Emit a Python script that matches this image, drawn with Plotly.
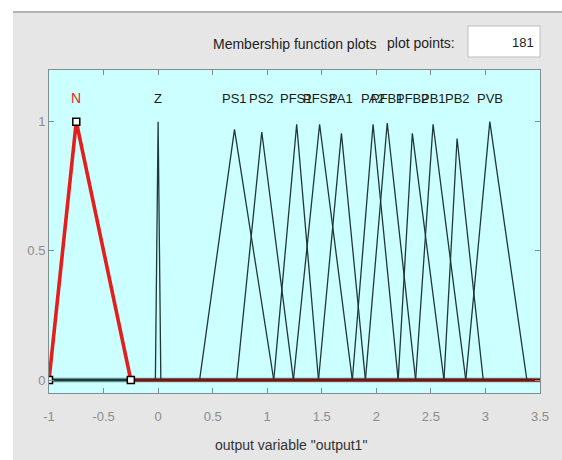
import plotly.graph_objects as go

# ---- data ----
x_range = [-1.0, 3.5]
x_ticks = [-1, -0.5, 0, 0.5, 1, 1.5, 2, 2.5, 3, 3.5]
x_tick_labels = ["-1", "-0.5", "0", "0.5", "1", "1.5", "2", "2.5", "3", "3.5"]
y_ticks = [0, 0.5, 1]
y_tick_labels = ["0", "0.5", "1"]

# selected MF (red)
n_name = "N"
n_x = [-1.0, -0.75, -0.25, 3.5]
n_y = [0.0, 1.0, 0.0, 0.0]

# other triangular MFs: left foot, peak, right foot, plotted peak height
mf_names = ["Z", "PS1", "PS2", "PFS1", "PFS2", "PA1", "PA2", "PFB1", "PFB2", "PB1", "PB2", "PVB"]
mf_left = [-0.025, 0.38, 0.72, 1.06, 1.24, 1.47, 1.78, 1.90, 2.20, 2.36, 2.62, 2.82]
mf_peak = [0.00, 0.70, 0.95, 1.27, 1.48, 1.68, 1.97, 2.10, 2.33, 2.52, 2.74, 3.04]
mf_right = [0.025, 1.06, 1.24, 1.47, 1.78, 1.90, 2.20, 2.36, 2.62, 2.82, 2.98, 3.38]
mf_height = [1.00, 0.97, 0.96, 0.99, 0.99, 0.955, 0.99, 0.995, 0.955, 0.99, 0.935, 1.00]

label_y = 1.09
plot_points = "181"
title_text = "Membership function plots"
points_text = "plot points:"
xlabel_text = 'output variable "output1"'

# ---- layout geometry (pixels) ----
W, H = 562, 460
L, R, T, B = 49, 540, 70, 393
FONT = "Liberation Sans, Arial, sans-serif"


def px(xp):
    return (xp - L) / (R - L)


def py(yp):
    return (B - yp) / (B - T)


fig = go.Figure()

# baseline where all other MFs sit at zero
fig.add_trace(go.Scatter(x=[x_range[0], x_range[1]], y=[0, 0], mode="lines",
                         line=dict(color="#5f8f8f", width=4.5), hoverinfo="skip"))
# red selected MF
fig.add_trace(go.Scatter(x=n_x, y=n_y, mode="lines",
                         line=dict(color="#e41e1a", width=3.6), hoverinfo="skip"))
# other MFs
for name, a, b, c, h in zip(mf_names, mf_left, mf_peak, mf_right, mf_height):
    fig.add_trace(go.Scatter(x=[x_range[0], a, b, c, x_range[1]], y=[0, 0, h, 0, 0],
                             mode="lines", line=dict(color="#1f3838", width=1.3),
                             hoverinfo="skip"))
# vertex handles on the selected MF
fig.add_trace(go.Scatter(x=n_x[:3], y=n_y[:3], mode="markers",
                         marker=dict(symbol="square", size=7, color="white",
                                     line=dict(color="black", width=1.5)),
                         hoverinfo="skip"))

annotations = []
annotations.append(dict(x=n_x[1], y=label_y, xref="x", yref="y", text=n_name,
                        xanchor="center", yanchor="middle",
                        showarrow=False, font=dict(family=FONT, size=14, color="#e41e1a")))
for name, b in zip(mf_names, mf_peak):
    annotations.append(dict(x=b, y=label_y, xref="x", yref="y", text=name,
                            xanchor="center", yanchor="middle",
                            showarrow=False, font=dict(family=FONT, size=13, color="#1a1a1a")))

annotations += [
    dict(x=px(294), y=py(44), xref="paper", yref="paper", text=title_text,
         xanchor="center", yanchor="middle",
         showarrow=False, font=dict(family=FONT, size=14, color="#222")),
    dict(x=px(421), y=py(43), xref="paper", yref="paper", text=points_text,
         xanchor="center", yanchor="middle",
         showarrow=False, font=dict(family=FONT, size=14, color="#222")),
    dict(x=px(536), y=py(43), xref="paper", yref="paper", text=plot_points,
         xanchor="right", yanchor="middle",
         showarrow=False, font=dict(family=FONT, size=13, color="#222")),
    dict(x=px(291), y=py(445), xref="paper", yref="paper", text=xlabel_text,
         xanchor="center", yanchor="middle",
         showarrow=False, font=dict(family=FONT, size=14, color="#333")),
]

shapes = [
    # white strip at top and left
    dict(type="rect", xref="paper", yref="paper", x0=px(0), x1=px(W), y0=py(11), y1=py(0),
         fillcolor="white", line=dict(width=0), layer="below"),
    dict(type="rect", xref="paper", yref="paper", x0=px(0), x1=px(13), y0=py(H), y1=py(11),
         fillcolor="white", line=dict(width=0), layer="below"),
    dict(type="line", xref="paper", yref="paper", x0=px(13), x1=px(W), y0=py(12), y1=py(12),
         line=dict(color="#b4b4b4", width=2), layer="below"),
    # plot points box
    dict(type="rect", xref="paper", yref="paper", x0=px(468), x1=px(540), y0=py(57), y1=py(26),
         fillcolor="white", line=dict(color="#bdbdbd", width=1), layer="below"),
]

fig.update_layout(
    width=W, height=H, autosize=False,
    margin=dict(l=L, r=W - R, t=T, b=H - B),
    paper_bgcolor="#e6e6e6", plot_bgcolor="#ccffff",
    showlegend=False,
    annotations=annotations, shapes=shapes,
    font=dict(family=FONT, size=12, color="#8c8c8c"),
)
fig.update_xaxes(range=x_range, tickvals=x_ticks, ticktext=x_tick_labels,
                 showgrid=False, zeroline=False, showline=True, mirror="ticks",
                 linecolor="#7f8f8f", linewidth=1, ticks="inside", ticklen=5,
                 tickcolor="#7f8f8f", ticklabelstandoff=11, automargin=False,
                 tickfont=dict(family=FONT, size=13, color="#8c8c8c"))
fig.update_yaxes(range=[-0.05, 1.2], tickvals=y_ticks, ticktext=y_tick_labels,
                 showgrid=False, zeroline=False, showline=True, mirror="ticks",
                 linecolor="#7f8f8f", linewidth=1, ticks="inside", ticklen=5,
                 tickcolor="#7f8f8f", automargin=False,
                 tickfont=dict(family=FONT, size=13, color="#8c8c8c"))

fig.write_html("out.html")
